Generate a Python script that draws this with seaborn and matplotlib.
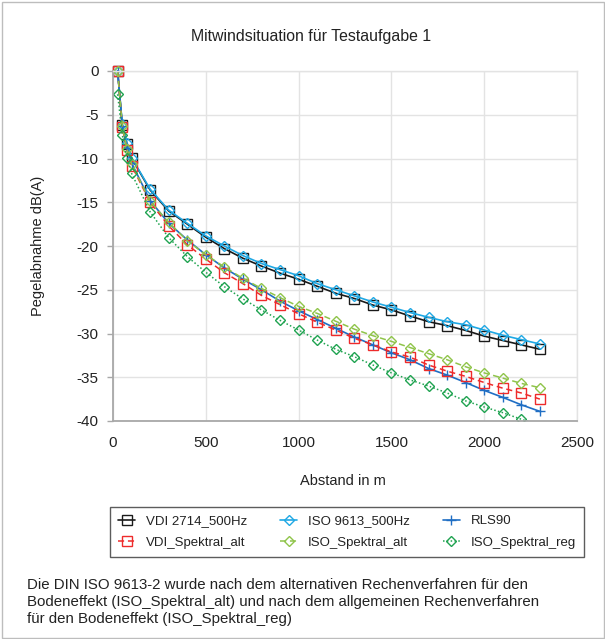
import matplotlib
matplotlib.use("Agg")
import matplotlib.pyplot as plt
from matplotlib.patches import Rectangle
import seaborn as sns
import pandas as pd

# Distance from source in metres
abstand = [25, 50, 75, 100, 200, 300, 400, 500, 600, 700, 800, 900, 1000,
           1100, 1200, 1300, 1400, 1500, 1600, 1700, 1800, 1900, 2000,
           2100, 2200, 2300]

# Level reduction in dB(A) per calculation method
vdi_2714_500hz = [0, -6.2, -8.3, -9.95, -13.6, -16.0, -17.5, -19.0, -20.3, -21.4,
                  -22.3, -23.1, -23.8, -24.6, -25.4, -26.0, -26.75, -27.3, -28.0,
                  -28.65, -29.1, -29.65, -30.3, -30.8, -31.3, -31.8]
iso_9613_500hz = [0, -6.1, -8.2, -9.9, -13.5, -15.9, -17.4, -18.85, -20.0, -21.1,
                  -22.0, -22.7, -23.4, -24.3, -25.0, -25.7, -26.4, -27.0, -27.6,
                  -28.15, -28.65, -29.0, -29.6, -30.2, -30.7, -31.2]
rls90 = [0, -6.3, -8.8, -10.5, -14.8, -17.4, -19.3, -21.0, -22.5, -23.8,
         -25.0, -26.3, -27.4, -28.4, -29.4, -30.4, -31.3, -32.2, -33.0,
         -34.0, -34.75, -35.6, -36.5, -37.3, -38.15, -38.9]
vdi_spektral_alt = [0, -6.4, -9.0, -10.8, -15.0, -17.7, -19.85, -21.5, -23.05, -24.3,
                    -25.65, -26.7, -27.75, -28.7, -29.6, -30.55, -31.3, -32.1, -32.7,
                    -33.6, -34.3, -34.9, -35.6, -36.25, -36.8, -37.5]
iso_spektral_alt = [0, -6.3, -8.9, -10.6, -14.9, -17.3, -19.4, -21.0, -22.4, -23.7,
                    -24.85, -25.9, -26.9, -27.7, -28.6, -29.5, -30.25, -30.9, -31.6,
                    -32.3, -33.0, -33.8, -34.5, -35.1, -35.7, -36.2]
iso_spektral_reg = [-2.66, -7.3, -9.9, -11.7, -16.1, -19.05, -21.2, -23.0, -24.65, -26.05,
                    -27.3, -28.5, -29.6, -30.75, -31.8, -32.65, -33.6, -34.5, -35.3,
                    -36.0, -36.8, -37.7, -38.4, -39.05, -39.8, -40.5]

x_ticks = [0, 500, 1000, 1500, 2000, 2500]
y_ticks = [0, -5, -10, -15, -20, -25, -30, -35, -40]

sns.set_theme(style="white")
plt.rcParams["font.family"] = ["Liberation Sans", "DejaVu Sans"]

W, H = 605, 639
fig = plt.figure(figsize=(W / 100, H / 100), dpi=100)
fig.patch.set_facecolor("white")

left, right, top, bottom = 113, 577, 71, 421
ax = fig.add_axes([left / W, 1 - bottom / H, (right - left) / W, (bottom - top) / H])

series = [
    ("VDI 2714_500Hz", vdi_2714_500hz,
     dict(color="#1a1a1a", marker="s", markersize=6.5, linestyle="-", linewidth=1.2,
          clip_on=False)),
    ("ISO 9613_500Hz", iso_9613_500hz,
     dict(color="#1fa8e4", marker="D", markersize=4.6, linestyle="-", linewidth=1.2,
          clip_on=False)),
    ("RLS90", rls90,
     dict(color="#1f6ec4", marker="+", markersize=7.5, linestyle="-", linewidth=1.2,
          clip_on=False)),
    ("VDI_Spektral_alt", vdi_spektral_alt,
     dict(color="#ee2b2b", marker="s", markersize=6.5, linestyle=(0, (4, 2.5)), linewidth=1.1,
          clip_on=False)),
    ("ISO_Spektral_alt", iso_spektral_alt,
     dict(color="#8fc44a", marker="D", markersize=4.6, linestyle=(0, (4, 2.5)), linewidth=1.1,
          clip_on=False)),
    ("ISO_Spektral_reg", iso_spektral_reg,
     dict(color="#1fa350", marker="D", markersize=4.6, linestyle=(0, (1, 1.5)), linewidth=1.1,
          markevery=list(range(len(abstand) - 1)))),
]

handles = {}
for name, values, style in series:
    df = pd.DataFrame({"Abstand": abstand, "Pegel": values})
    sns.lineplot(data=df, x="Abstand", y="Pegel", ax=ax, label=name,
                 markerfacecolor="none", markeredgecolor=style["color"],
                 markeredgewidth=1.0, **style)
    handles[name] = ax.get_lines()[-1]

ax.set_xlim(0, 2500)
ax.set_ylim(-40, 0)
ax.set_xticks(x_ticks)
ax.set_yticks(y_ticks)
ax.set_xticklabels([str(v) for v in x_ticks])
ax.set_yticklabels([str(v) for v in y_ticks])

ax.grid(True, color="#e3e3e3", linewidth=1.0)
ax.set_axisbelow(True)
for side in ("left", "bottom"):
    ax.spines[side].set_color("#a8a8a8")
    ax.spines[side].set_linewidth(1.3)
for side in ("top", "right"):
    ax.spines[side].set_color("#e3e3e3")
    ax.spines[side].set_linewidth(1.0)

ax.tick_params(axis="y", which="both", left=True, length=4, width=1, color="#a8a8a8",
               pad=6.5, labelsize=11, labelcolor="#222222")
ax.tick_params(axis="x", which="both", bottom=False, length=0, pad=11,
               labelsize=11, labelcolor="#222222")

ax.set_xlabel("Abstand in m", fontsize=10.5, color="#222222")
ax.set_ylabel("Pegelabnahme dB(A)", fontsize=10.5, color="#222222")
ax.xaxis.set_label_coords(0.495, -0.152)
ax.yaxis.set_label_coords(-0.147, 0.5)

ax.get_legend().remove()

fig.text(311 / W, 1 - 37 / H, "Mitwindsituation für Testaufgabe 1",
         ha="center", va="center", fontsize=11.4, color="#222222")

order = ["VDI 2714_500Hz", "VDI_Spektral_alt", "ISO 9613_500Hz",
         "ISO_Spektral_alt", "RLS90", "ISO_Spektral_reg"]
leg = fig.legend([handles[n] for n in order], order, ncol=3,
                 loc="upper left", bbox_to_anchor=(110 / W, 1 - 507 / H),
                 bbox_transform=fig.transFigure,
                 fontsize=9.5, frameon=True, fancybox=False,
                 handlelength=1.3, handletextpad=0.8, columnspacing=2.5,
                 labelspacing=0.68, borderpad=0.62, borderaxespad=0)
leg.get_frame().set_edgecolor("#333333")
leg.get_frame().set_linewidth(1.0)
for t in leg.get_texts():
    t.set_color("#222222")

fig.text(27 / W, 1 - 578 / H,
         "Die DIN ISO 9613-2 wurde nach dem alternativen Rechenverfahren für den\n"
         "Bodeneffekt (ISO_Spektral_alt) und nach dem allgemeinen Rechenverfahren\n"
         "für den Bodeneffekt (ISO_Spektral_reg)",
         ha="left", va="top", fontsize=10.8, linespacing=1.25, color="#222222")

fig.add_artist(Rectangle((1.5 / W, 1.5 / H), 1 - 3 / W, 1 - 3 / H,
                         transform=fig.transFigure, fill=False,
                         edgecolor="#bdbdbd", linewidth=1.0))

fig.savefig("out.png", dpi=100)
